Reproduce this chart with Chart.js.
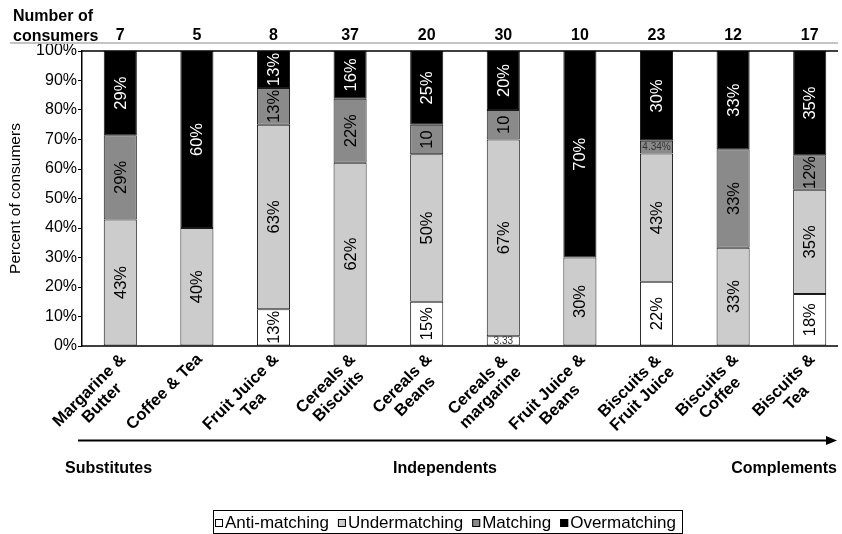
<!DOCTYPE html>
<html>
<head>
<meta charset="utf-8">
<script src="https://cdn.jsdelivr.net/npm/chart.js@4.4.1/dist/chart.umd.min.js"></script>
<style>
  html, body { margin: 0; padding: 0; background: #fff; overflow: hidden; width: 842px; height: 534px; }
  canvas { display: block; }
</style>
</head>
<body>
<canvas id="chart" width="860" height="534"></canvas>
<script>
// Product pairs, ordered from substitutes to complements
const categories = [
  ['Margarine &', 'Butter'],
  ['Coffee & Tea'],
  ['Fruit Juice &', 'Tea'],
  ['Cereals &', 'Biscuits'],
  ['Cereals &', 'Beans'],
  ['Cereals &', 'margarine'],
  ['Fruit Juice &', 'Beans'],
  ['Biscuits &', 'Fruit Juice'],
  ['Biscuits &', 'Coffee'],
  ['Biscuits &', 'Tea']
];
const consumers = [7, 5, 8, 37, 20, 30, 10, 23, 12, 17];

// Percent of consumers in each matching class
const antiMatching  = [0, 0, 12.5, 0, 15, 3.33, 0, 21.74, 0, 17.65];
const undermatching = [42.86, 40, 62.5, 62.16, 50, 66.67, 30, 43.48, 33.33, 35.29];
const matching      = [28.57, 0, 12.5, 21.62, 10, 10, 0, 4.34, 33.33, 11.76];
const overmatching  = [28.57, 60, 12.5, 16.22, 25, 20, 70, 30.43, 33.33, 35.29];

const seriesNames = ['Anti-matching', 'Undermatching', 'Matching', 'Overmatching'];
const seriesColors = ['#ffffff', '#cccccc', '#8a8a8a', '#000000'];
const yTickValues = [0, 10, 20, 30, 40, 50, 60, 70, 80, 90, 100];
const relationLabels = ['Substitutes', 'Independents', 'Complements'];

const FONT = '"Liberation Sans", Arial, Helvetica, sans-serif';

// Text written inside a bar segment
function segmentLabel(s, i, v) {
  if (s === 2 && (i === 4 || i === 5)) return { text: String(v), small: false };
  if (s === 0 && i === 5) return { text: v.toFixed(2), small: true };
  if (s === 2 && i === 7) return { text: v.toFixed(2) + '%', small: true };
  return { text: Math.round(v) + '%', small: false };
}

const decorations = {
  id: 'decorations',
  afterDatasetsDraw(chart) {
    const ctx = chart.ctx;
    const ys = chart.scales.y;
    const left = chart.chartArea.left;
    const top = ys.getPixelForValue(100);
    const bottom = ys.getPixelForValue(0);

    // frame lines across the top and bottom of the plot
    ctx.save();
    ctx.strokeStyle = '#000';
    ctx.lineWidth = 1.5;
    ctx.beginPath();
    ctx.moveTo(left, top); ctx.lineTo(838, top);
    ctx.moveTo(left, bottom); ctx.lineTo(838, bottom);
    ctx.stroke();
    ctx.restore();

    // values inside the segments
    chart.data.datasets.forEach((ds, s) => {
      const meta = chart.getDatasetMeta(s);
      meta.data.forEach((bar, i) => {
        const v = ds.data[i];
        if (!v) return;
        const lab = segmentLabel(s, i, v);
        const cy = (bar.y + bar.base) / 2;
        ctx.save();
        ctx.textAlign = 'center';
        ctx.textBaseline = 'middle';
        if (lab.small) {
          ctx.font = '10px ' + FONT;
          ctx.fillStyle = '#333';
          ctx.fillText(lab.text, bar.x, cy + 0.5);
        } else {
          ctx.translate(bar.x, cy);
          ctx.rotate(-Math.PI / 2);
          ctx.font = '16.5px ' + FONT;
          ctx.fillStyle = s === 3 ? '#fff' : '#000';
          ctx.fillText(lab.text, 0, 1);
        }
        ctx.restore();
      });
    });
  },
  afterDraw(chart) {
    const ctx = chart.ctx;
    const xs = chart.scales.x;

    ctx.save();
    // header: number of consumers per pair
    ctx.fillStyle = '#000';
    ctx.font = 'bold 16px ' + FONT;
    ctx.textAlign = 'left';
    ctx.textBaseline = 'alphabetic';
    ctx.fillText('Number of', 13, 21);
    ctx.fillText('consumers', 13, 41);
    ctx.textAlign = 'center';
    consumers.forEach((n, i) => {
      ctx.fillText(String(n), xs.getPixelForValue(i), 40);
    });
    ctx.strokeStyle = '#c4c4c4';
    ctx.lineWidth = 2;
    ctx.beginPath();
    ctx.moveTo(10, 43); ctx.lineTo(838, 43);
    ctx.stroke();

    // rotated category names, centred lines
    ctx.font = 'bold 16.5px ' + FONT;
    ctx.textBaseline = 'top';
    ctx.textAlign = 'center';
    categories.forEach((lines, i) => {
      const w = Math.max(...lines.map(l => ctx.measureText(l).width));
      ctx.save();
      ctx.translate(xs.getPixelForValue(i) - 3, 351);
      ctx.rotate(-Math.PI / 4);
      lines.forEach((l, k) => ctx.fillText(l, -w / 2, k * 18));
      ctx.restore();
    });

    // substitutes -> complements arrow
    ctx.strokeStyle = '#000';
    ctx.lineWidth = 2;
    ctx.beginPath();
    ctx.moveTo(78, 440.5); ctx.lineTo(828, 440.5);
    ctx.stroke();
    ctx.beginPath();
    ctx.moveTo(837, 440.5); ctx.lineTo(826, 436); ctx.lineTo(826, 445); ctx.closePath();
    ctx.fill();

    ctx.font = 'bold 16px ' + FONT;
    ctx.textBaseline = 'alphabetic';
    ctx.textAlign = 'left';
    ctx.fillText(relationLabels[0], 65, 473);
    ctx.textAlign = 'center';
    ctx.fillText(relationLabels[1], 445, 473);
    ctx.textAlign = 'right';
    ctx.fillText(relationLabels[2], 837, 473);

    // legend
    ctx.font = '17px ' + FONT;
    ctx.textAlign = 'left';
    const x0 = 215, xEnd = 676, box = 8, pad = 2;
    const widths = seriesNames.map(n => ctx.measureText(n).width);
    const used = widths.reduce((a, b) => a + b, 0) + seriesNames.length * (box + pad);
    const gap = (xEnd - x0 - used) / (seriesNames.length - 1);
    let x = x0;
    seriesNames.forEach((name, k) => {
      ctx.fillStyle = seriesColors[k];
      ctx.fillRect(x, 519, box, box);
      ctx.strokeStyle = '#000';
      ctx.lineWidth = 1;
      ctx.strokeRect(x + 0.5, 519.5, box - 1, box - 1);
      ctx.fillStyle = '#000';
      ctx.fillText(name, x + box + pad, 528);
      x += box + pad + widths[k] + gap;
    });
    ctx.strokeStyle = '#000';
    ctx.lineWidth = 1;
    ctx.strokeRect(213.5, 510.5, 469, 23);
    ctx.restore();
  }
};

const mk = (label, data, k) => ({
  label,
  data,
  backgroundColor: seriesColors[k],
  borderColor: '#1a1a1a',
  borderWidth: 1,
  borderSkipped: false,
  barPercentage: 0.432,
  categoryPercentage: 1
});

new Chart(document.getElementById('chart'), {
  type: 'bar',
  data: {
    labels: categories.map(c => c.join(' ')),
    datasets: [
      mk(seriesNames[0], antiMatching, 0),
      mk(seriesNames[1], undermatching, 1),
      mk(seriesNames[2], matching, 2),
      mk(seriesNames[3], overmatching, 3)
    ]
  },
  options: {
    responsive: false,
    animation: false,
    events: [],
    layout: { padding: { left: 0, top: 51, right: 12, bottom: 188 } },
    plugins: { legend: { display: false }, tooltip: { enabled: false } },
    scales: {
      x: { stacked: true, display: false },
      y: {
        stacked: true,
        min: 0,
        max: 100,
        afterFit(scale) { scale.width = 82; },
        afterBuildTicks(scale) { scale.ticks = yTickValues.map(v => ({ value: v })); },
        ticks: {
          color: '#000',
          padding: 1,
          font: { family: FONT, size: 16 },
          callback: v => v + '%'
        },
        grid: { drawOnChartArea: false, drawTicks: true, tickLength: 4, color: '#000' },
        border: { display: true, color: '#000', width: 1.5 },
        title: {
          display: true,
          text: 'Percent of consumers',
          color: '#000',
          font: { family: FONT, size: 15.5 },
          padding: { top: 6, bottom: 0 }
        }
      }
    }
  },
  plugins: [decorations]
});
</script>
</body>
</html>
